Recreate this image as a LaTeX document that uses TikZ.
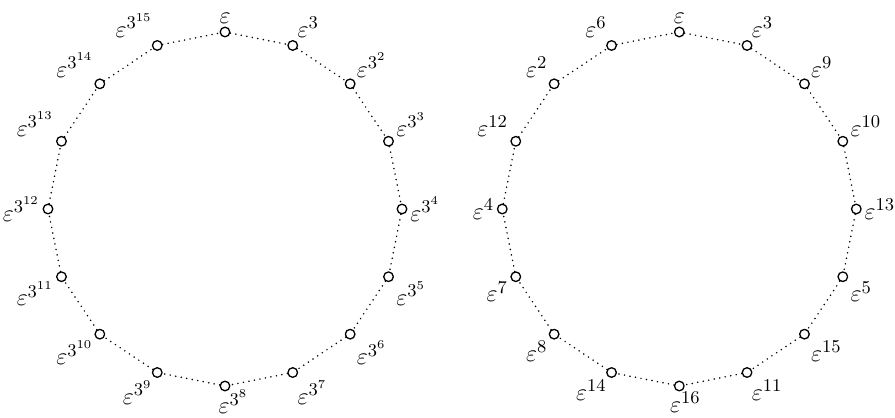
\documentclass[tikz,border=0pt]{standalone}
\usepackage{amsmath,amssymb}
\definecolor{ink}{HTML}{000000}
\tikzset{
  every picture/.style={line cap=round, line join=round},
  root/.style={circle, draw=ink, fill=white, inner sep=0pt, minimum size=4.8pt, line width=0.65pt},
  ring/.style={draw=ink, line width=0.85pt, dash pattern=on 0pt off 2.8pt},
  every label/.style={font=\fontsize{13}{15}\selectfont, text=ink, inner sep=1.2pt},
}

\begin{document}
\begin{tikzpicture}[x=0.5pt, y=0.5pt]
  \useasboundingbox (0,0) rectangle (895,418);
  % powers of 3, left
  \begin{scope}[shift={(225,209)}]
    \node[root, label={90:$\varepsilon$}] (a0) at (90:177) {};
    \node[root, label={67.5:$\varepsilon^{3}$}] (a1) at (67.5:177) {};
    \node[root, label={45:$\varepsilon^{3^{2}}$}] (a2) at (45:177) {};
    \node[root, label={22.5:$\varepsilon^{3^{3}}$}] (a3) at (22.5:177) {};
    \node[root, label={0:$\varepsilon^{3^{4}}$}] (a4) at (0:177) {};
    \node[root, label={-22.5:$\varepsilon^{3^{5}}$}] (a5) at (-22.5:177) {};
    \node[root, label={-45:$\varepsilon^{3^{6}}$}] (a6) at (-45:177) {};
    \node[root, label={-67.5:$\varepsilon^{3^{7}}$}] (a7) at (-67.5:177) {};
    \node[root, label={[label distance=-2.2pt, xshift=4.2pt]-90:$\varepsilon^{3^{8}}$}] (a8) at (-90:177) {};
    \node[root, label={-112.5:$\varepsilon^{3^{9}}$}] (a9) at (-112.5:177) {};
    \node[root, label={-135:$\varepsilon^{3^{10}}$}] (a10) at (-135:177) {};
    \node[root, label={-157.5:$\varepsilon^{3^{11}}$}] (a11) at (-157.5:177) {};
    \node[root, label={180:$\varepsilon^{3^{12}}$}] (a12) at (180:177) {};
    \node[root, label={157.5:$\varepsilon^{3^{13}}$}] (a13) at (157.5:177) {};
    \node[root, label={135:$\varepsilon^{3^{14}}$}] (a14) at (135:177) {};
    \node[root, label={112.5:$\varepsilon^{3^{15}}$}] (a15) at (112.5:177) {};
  \end{scope}
  \draw[ring] (a0) -- (a1) -- (a2) -- (a3) -- (a4) -- (a5) -- (a6) -- (a7) -- (a8)
    -- (a9) -- (a10) -- (a11) -- (a12) -- (a13) -- (a14) -- (a15) -- (a0);
  % same roots, exponents reduced mod 17
  \begin{scope}[shift={(679.3,209)}]
    \node[root, label={90:$\varepsilon$}] (b0) at (90:177) {};
    \node[root, label={67.5:$\varepsilon^{3}$}] (b1) at (67.5:177) {};
    \node[root, label={45:$\varepsilon^{9}$}] (b2) at (45:177) {};
    \node[root, label={22.5:$\varepsilon^{10}$}] (b3) at (22.5:177) {};
    \node[root, label={0:$\varepsilon^{13}$}] (b4) at (0:177) {};
    \node[root, label={-22.5:$\varepsilon^{5}$}] (b5) at (-22.5:177) {};
    \node[root, label={-45:$\varepsilon^{15}$}] (b6) at (-45:177) {};
    \node[root, label={-67.5:$\varepsilon^{11}$}] (b7) at (-67.5:177) {};
    \node[root, label={[label distance=-1pt, xshift=3pt]-90:$\varepsilon^{16}$}] (b8) at (-90:177) {};
    \node[root, label={-112.5:$\varepsilon^{14}$}] (b9) at (-112.5:177) {};
    \node[root, label={-135:$\varepsilon^{8}$}] (b10) at (-135:177) {};
    \node[root, label={-157.5:$\varepsilon^{7}$}] (b11) at (-157.5:177) {};
    \node[root, label={180:$\varepsilon^{4}$}] (b12) at (180:177) {};
    \node[root, label={157.5:$\varepsilon^{12}$}] (b13) at (157.5:177) {};
    \node[root, label={135:$\varepsilon^{2}$}] (b14) at (135:177) {};
    \node[root, label={112.5:$\varepsilon^{6}$}] (b15) at (112.5:177) {};
  \end{scope}
  \draw[ring] (b0) -- (b1) -- (b2) -- (b3) -- (b4) -- (b5) -- (b6) -- (b7) -- (b8)
    -- (b9) -- (b10) -- (b11) -- (b12) -- (b13) -- (b14) -- (b15) -- (b0);
\end{tikzpicture}
\end{document}
